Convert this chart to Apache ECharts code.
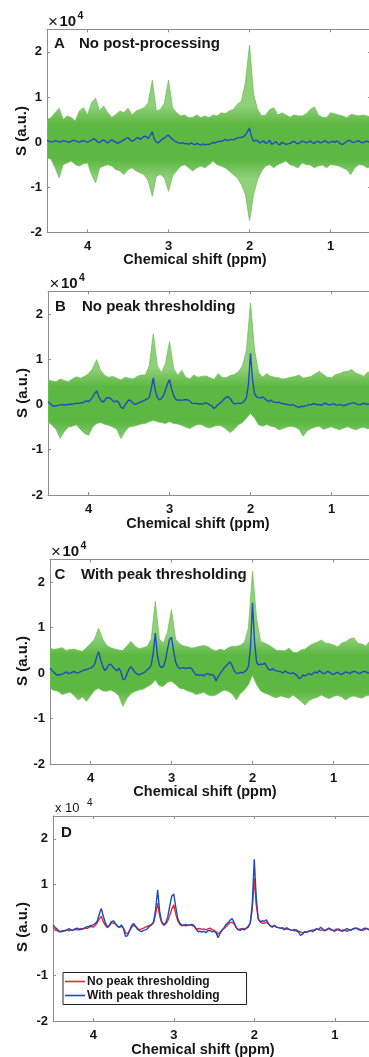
<!DOCTYPE html>
<html><head><meta charset="utf-8">
<script src="https://cdn.jsdelivr.net/npm/echarts@6/dist/echarts.min.js"></script>
<style>html,body{margin:0;padding:0;background:#fff;}#c{width:369px;height:1057px;}</style>
</head><body><div id="c"></div><script>
// ---- sample positions (ppm) ----
const ppmFine = [4.5,4.475,4.45,4.425,4.4,4.375,4.35,4.325,4.3,4.275,4.25,4.225,4.2,4.175,4.15,4.125,4.1,4.075,4.05,4.025,
4,3.975,3.95,3.925,3.9,3.875,3.85,3.825,3.8,3.775,3.75,3.725,3.7,3.675,3.65,3.625,3.6,3.575,3.55,3.525,
3.5,3.475,3.45,3.425,3.4,3.375,3.35,3.325,3.3,3.275,3.25,3.225,3.2,3.175,3.15,3.125,3.1,3.075,3.05,3.025,
3,2.975,2.95,2.925,2.9,2.875,2.85,2.825,2.8,2.775,2.75,2.725,2.7,2.675,2.65,2.625,2.6,2.575,2.55,2.525,
2.5,2.475,2.45,2.425,2.4,2.375,2.35,2.325,2.3,2.275,2.25,2.225,2.2,2.175,2.15,2.125,2.1,2.075,2.05,2.025,
2,1.975,1.95,1.925,1.9,1.875,1.85,1.825,1.8,1.775,1.75,1.725,1.7,1.675,1.65,1.625,1.6,1.575,1.55,1.525,
1.5,1.475,1.45,1.425,1.4,1.375,1.35,1.325,1.3,1.275,1.25,1.225,1.2,1.175,1.15,1.125,1.1,1.075,1.05,1.025,
1,0.975,0.95,0.925,0.9,0.875,0.85,0.825,0.8,0.775,0.75,0.725,0.7,0.675,0.65,0.625,0.6,0.575,0.55,0.525,
0.5];
const ppmCoarse = [4.5,4.45,4.4,4.35,4.3,4.25,4.2,4.15,4.1,4.05,
4,3.95,3.9,3.85,3.8,3.75,3.7,3.65,3.6,3.55,
3.5,3.45,3.4,3.35,3.3,3.25,3.2,3.15,3.1,3.05,
3,2.95,2.9,2.85,2.8,2.75,2.7,2.65,2.6,2.55,
2.5,2.45,2.4,2.35,2.3,2.25,2.2,2.15,2.1,2.05,
2,1.95,1.9,1.85,1.8,1.75,1.7,1.65,1.6,1.55,
1.5,1.45,1.4,1.35,1.3,1.25,1.2,1.15,1.1,1.05,
1,0.95,0.9,0.85,0.8,0.75,0.7,0.65,0.6,0.55,
0.5];

// ---- values in units of 1e3 (a.u.) ----
// mean spectra (blue lines)
const meanNoPost = [0.4,0.2,0.0,0.1,0.3,0.2,0.0,0.1,0.3,0.2,0.1,-0.1,0.2,0.4,0.3,0.1,0.0,0.2,0.3,0.1,
0.0,0.2,0.4,0.8,0.5,0.0,-0.1,0.3,0.5,0.1,-0.2,0.2,0.5,0.2,0.0,-0.3,0.0,0.2,0.5,0.8,
1.0,0.5,0.2,0.4,0.8,1.0,0.6,0.9,1.3,1.2,0.8,1.5,2.3,0.6,0.0,-0.2,0.3,0.7,0.9,1.3,
1.5,1.0,0.6,0.3,0.0,-0.2,-0.3,-0.1,-0.4,-0.3,-0.5,-0.2,-0.4,-0.6,-0.3,-0.5,-0.7,-0.4,-0.6,-0.5,
-0.5,-0.3,-0.1,-0.2,0.0,0.2,0.1,0.3,0.6,0.3,0.5,0.6,0.5,0.7,0.9,1.0,1.0,1.2,1.6,2.3,
3.1,1.2,0.2,0.4,0.3,-0.2,0.0,0.3,-0.3,-0.1,0.4,-0.5,-0.2,0.1,-0.4,-0.6,0.0,-0.3,-0.5,-0.4,
-0.3,0.0,0.2,-0.2,-0.4,-0.1,0.2,0.1,-0.2,0.0,0.3,-0.1,-0.3,0.1,0.2,-0.2,0.0,0.3,0.1,-0.2,
0.0,0.2,-0.1,0.3,0.0,-0.4,-0.5,-0.2,0.1,0.4,0.2,-0.1,0.0,0.2,0.3,0.0,-0.2,0.1,0.2,0.0,
0.1];
const meanNoThresh = [0.6,0.2,-0.2,-0.4,-0.3,-0.2,-0.1,0.0,-0.2,0.0,-0.1,0.1,0.0,0.2,0.3,0.2,0.4,0.3,0.6,0.8,
0.6,1.0,1.6,2.4,3.0,1.8,1.0,0.5,0.9,1.5,1.5,1.3,0.8,0.6,0.8,0.4,-0.6,-0.9,-0.2,0.5,
1.0,0.8,0.3,0.0,0.2,0.4,0.6,0.8,1.0,1.2,1.6,3.5,5.9,3.0,1.6,1.0,1.3,2.0,3.2,4.5,
5.5,3.5,2.0,1.2,0.9,1.0,0.9,1.0,1.1,1.0,0.8,0.3,0.2,0.3,0.1,0.2,0.0,0.2,0.4,0.1,
-0.1,-0.4,-0.9,-0.5,0.0,0.3,0.7,1.2,1.6,1.7,1.3,0.6,0.1,0.2,0.3,0.2,0.4,0.8,1.5,4.5,
11.3,5.5,2.4,1.7,1.5,1.4,1.7,1.3,0.9,0.6,1.0,0.6,0.5,0.4,0.5,0.3,0.2,0.1,0.0,-0.1,
-0.2,0.0,-0.3,-0.5,-0.7,-0.4,-0.5,-0.3,-0.2,0.0,-0.1,0.2,0.1,-0.1,0.0,-0.2,0.1,0.3,0.0,-0.1,
0.0,0.2,-0.1,-0.2,0.0,-0.1,-0.3,-0.1,0.0,0.2,0.3,0.4,0.2,0.0,-0.1,0.1,0.3,0.1,0.0,0.2,
0.1];
const meanWithThresh = [1.1,0.6,0.2,-0.3,-0.4,-0.3,-0.2,0.0,0.3,-0.1,0.0,0.2,0.4,0.0,0.1,0.3,0.5,0.7,0.8,1.0,
1.1,1.4,1.9,3.5,4.7,3.0,1.6,0.6,1.0,1.8,2.0,1.4,0.9,0.5,1.1,0.3,-1.4,-1.3,-0.2,0.9,
1.4,0.8,0.2,-0.2,-0.4,-0.1,0.0,0.3,0.8,1.1,1.8,4.5,8.8,4.0,1.8,1.2,1.5,2.8,5.2,7.4,
7.9,5.0,2.5,1.5,1.0,1.1,1.2,1.0,1.1,1.2,1.0,0.3,-0.4,-0.3,-0.5,-0.3,-0.6,-0.2,-0.1,-0.4,
-0.3,-0.6,-1.7,-0.8,-0.1,0.5,1.2,1.6,2.1,2.5,1.6,0.5,0.0,-0.1,0.2,0.0,0.3,0.6,1.5,5.5,
15.5,7.0,2.4,1.8,2.0,1.9,2.2,1.5,0.8,0.7,1.0,0.6,0.5,0.4,0.3,0.0,0.5,0.2,0.0,-0.1,
0.1,-0.2,-0.5,-1.2,-1.0,-0.4,-0.6,-0.3,-0.1,-0.4,0.0,0.3,0.0,0.6,0.2,-0.1,0.0,0.4,0.2,-0.1,
-0.3,0.0,0.2,-0.1,-0.3,0.0,0.3,0.1,-0.1,0.2,0.4,0.3,0.0,-0.1,0.2,0.4,0.3,0.0,0.2,0.4,
0.1];
// envelopes of the individual spectra (green)
const upperNoPost = [5.0,5.4,6.5,7.5,5.0,5.8,5.4,4.7,6.9,7.6,
6.0,8.7,9.7,6.9,8.0,6.5,5.5,6.1,6.9,6.5,
7.5,6.0,6.9,7.2,7.6,8.7,13.7,6.9,7.2,8.7,
13.7,7.6,6.5,5.8,6.0,5.4,5.5,6.0,5.4,5.8,
5.4,6.0,5.8,6.5,6.3,6.9,7.2,8.4,9.1,13.2,
21.5,10.6,7.2,5.8,6.0,7.2,7.6,6.0,6.5,6.0,
5.5,6.0,5.8,5.8,6.3,7.2,7.8,6.0,5.5,5.4,
6.5,6.3,6.0,5.8,5.4,6.1,6.0,5.8,6.0,5.8,
5.5];
const lowerNoPost = [-3.5,-3.8,-5.7,-7.9,-5.0,-4.6,-4.2,-5.0,-5.3,-4.8,
-4.6,-7.2,-9.0,-5.7,-5.3,-5.0,-5.3,-6.1,-6.4,-7.2,
-6.1,-5.7,-6.4,-6.8,-7.2,-8.6,-12.0,-7.5,-7.2,-7.9,
-10.9,-7.5,-6.4,-5.3,-5.0,-5.7,-6.4,-5.7,-5.3,-5.7,
-5.0,-4.2,-5.0,-5.3,-5.7,-6.4,-7.2,-7.9,-9.4,-11.6,
-17.4,-11.6,-8.3,-6.4,-5.3,-5.0,-5.7,-5.0,-4.6,-4.2,
-5.0,-5.3,-5.7,-4.6,-5.0,-5.1,-5.7,-5.3,-5.1,-5.7,
-5.0,-5.1,-5.3,-5.7,-6.1,-7.2,-5.7,-5.0,-5.1,-5.7,
-5.5];
const upperNoThresh = [5.4,5.2,5.0,5.6,5.3,5.0,5.6,6.1,5.8,6.2,
6.8,7.9,9.9,7.5,6.4,6.0,6.2,5.8,5.4,6.0,
5.8,5.6,6.2,6.5,6.5,8.5,15.6,8.5,7.0,9.0,
13.9,8.0,6.4,7.5,6.0,5.6,6.5,6.0,6.2,6.3,
5.9,5.5,6.8,6.0,5.9,6.4,6.6,7.2,8.5,12.0,
22.4,12.0,7.0,6.0,6.8,6.2,6.0,5.9,5.6,5.8,
6.0,6.2,6.5,5.8,6.0,6.2,6.8,7.3,6.6,6.0,
5.9,6.6,6.8,7.2,7.3,7.7,6.9,6.6,6.2,7.2,
6.5];
const lowerNoThresh = [-3.8,-4.6,-5.5,-7.5,-6.0,-5.0,-4.8,-4.5,-5.5,-6.4,
-6.8,-5.0,-4.2,-4.0,-4.4,-4.6,-5.0,-5.5,-7.5,-6.0,
-5.0,-4.8,-4.6,-4.3,-4.2,-3.8,-3.5,-3.8,-4.0,-4.2,
-3.8,-4.2,-4.3,-4.6,-5.0,-5.3,-4.8,-4.4,-4.5,-5.0,
-5.2,-4.8,-4.6,-4.8,-5.5,-6.2,-5.5,-4.5,-4.0,-3.0,
-2.0,-3.0,-4.5,-4.8,-4.4,-4.8,-5.0,-5.6,-5.3,-5.0,
-4.8,-5.0,-5.5,-7.0,-5.8,-5.3,-5.0,-4.8,-5.5,-5.2,
-4.9,-5.3,-5.6,-5.2,-4.9,-5.3,-5.6,-5.2,-5.0,-5.4,
-5.0];
const upperWithThresh = [5.5,5.2,5.4,5.6,5.0,5.2,5.3,5.0,4.8,5.6,
6.5,7.5,9.9,7.5,6.1,5.6,5.3,5.1,5.0,6.0,
7.0,5.9,5.4,5.6,5.9,7.5,15.8,7.5,6.6,9.0,
14.0,7.5,6.4,6.0,5.8,5.5,5.7,5.9,6.1,5.8,
5.2,4.9,5.3,5.0,5.6,5.9,5.9,6.1,6.8,10.0,
22.4,12.0,7.0,6.6,6.2,5.6,5.0,5.0,4.9,5.5,
4.6,4.5,5.1,5.3,6.0,6.5,6.8,7.3,6.6,6.5,
6.2,5.8,6.6,6.9,7.5,7.8,6.6,6.4,6.0,7.1,
6.5];
const lowerWithThresh = [-3.3,-3.8,-4.0,-4.7,-4.4,-4.2,-5.0,-5.9,-5.2,-6.2,
-5.0,-3.8,-3.3,-3.9,-4.0,-3.7,-4.2,-5.0,-7.3,-5.5,
-4.5,-4.0,-3.7,-3.5,-3.0,-2.5,-1.5,-2.8,-2.9,-2.0,
-1.8,-2.5,-3.3,-3.5,-3.9,-4.2,-4.7,-4.5,-4.2,-4.8,
-5.0,-4.8,-4.2,-3.7,-4.0,-4.6,-5.9,-4.5,-3.7,-2.5,
-0.5,-2.5,-3.9,-4.4,-4.7,-5.2,-5.4,-5.0,-5.3,-5.5,
-4.8,-5.5,-6.2,-7.0,-6.0,-5.6,-5.3,-4.8,-5.3,-5.6,
-5.1,-4.9,-5.2,-5.9,-5.3,-5.0,-5.3,-5.5,-5.0,-4.8,
-5.0];

// ---- ticks and texts ----
const xTicks = [4, 3, 2, 1];
const yTicks = [-2, -1, 0, 1, 2];           // in units of 1e4
const panelLetters = ['A', 'B', 'C', 'D'];
const panelTitles = ['No post-processing', 'No peak thresholding', 'With peak thresholding', ''];
const legendNames = ['No peak thresholding', 'With peak thresholding'];
const xLabel = 'Chemical shift (ppm)';
const yLabel = 'S (a.u.)';

// ---- layout (pixels) ----
const layout = [
  {left: 47, top: 29.3, width: 324, height: 203,   exp: [48, 22],  letter: [54, 44],  title: [79, 44],  ylab: [22, 131], xlab: [195, 259.5]},
  {left: 48, top: 291.3, width: 324, height: 203.7, exp: [49.5, 284], letter: [55, 306.7], title: [82, 306.7], ylab: [23, 393], xlab: [198, 523.5]},
  {left: 50, top: 559.6, width: 324, height: 204.4, exp: [51, 552], letter: [54.5, 575], title: [81, 575], ylab: [23, 661], xlab: [205, 792]},
  {left: 53, top: 816, width: 322, height: 205,   exp: [55, 808], letter: [61, 833], title: [0, 0], ylab: [23, 927], xlab: [203, 1049.5]}
];

const GREEN = '#5db843', GREEN_LIGHT = '#8fd079', BLUE = '#1d4cbf', RED = '#e9292b', AXIS = '#8e8e8e', TXT = '#161616';
const FONT = '"Liberation Sans", Arial, Helvetica, sans-serif';
const S = 1000;
const yCustom = yTicks.map(v => v * 10000);

const grids = [], xAxes = [], yAxes = [], series = [], graphics = [];
layout.forEach((L, g) => {
  grids.push({left: L.left, top: L.top, width: L.width, height: L.height, containLabel: false, outerBoundsMode: 'none'});
  const common = {gridIndex: g, splitLine: {show: false}};
  ['bottom', 'top'].forEach((pos, k) => xAxes.push(Object.assign({}, common, {
    type: 'value', position: pos, min: 0.5, max: 4.5, inverse: true,
    axisLine: {show: true, onZero: false, lineStyle: {color: AXIS, width: 1}},
    axisTick: {show: true, inside: true, length: 3, customValues: xTicks, lineStyle: {color: AXIS}},
    axisLabel: {show: k === 0, customValues: xTicks, color: TXT, fontSize: 13, fontWeight: 'bold', fontFamily: FONT, margin: 8}
  })));
  ['left', 'right'].forEach((pos, k) => yAxes.push(Object.assign({}, common, {
    type: 'value', position: pos, min: -20000, max: 25000,
    axisLine: {show: true, onZero: false, lineStyle: {color: AXIS, width: 1}},
    axisTick: {show: true, inside: true, length: 3, customValues: yCustom, lineStyle: {color: AXIS}},
    axisLabel: {show: k === 0, customValues: yCustom, formatter: v => String(Math.round(v / 10000)),
      color: TXT, fontSize: 13, fontWeight: 'bold', fontFamily: FONT, margin: 5}
  })));
  // texts
  if (g < 3) {
    graphics.push({type: 'text', x: L.exp[0], y: L.exp[1] + 0.5, style: {text: '×', fontSize: 17, fontFamily: FONT, fill: TXT, verticalAlign: 'middle'}});
    graphics.push({type: 'text', x: L.exp[0] + 11.5, y: L.exp[1], style: {text: '10', fontSize: 15, fontWeight: 'bold', fontFamily: FONT, fill: TXT, verticalAlign: 'middle'}});
    graphics.push({type: 'text', x: L.exp[0] + 29.5, y: L.exp[1] - 6, style: {text: '4', fontSize: 10.5, fontWeight: 'bold', fontFamily: FONT, fill: TXT, verticalAlign: 'middle'}});
    graphics.push({type: 'text', x: L.title[0], y: L.title[1], style: {text: panelTitles[g], fontSize: 15, fontWeight: 'bold', fontFamily: FONT, fill: TXT, verticalAlign: 'middle'}});
  } else {
    graphics.push({type: 'text', x: L.exp[0], y: L.exp[1], style: {text: 'x 10', fontSize: 13, fontFamily: FONT, fill: TXT, verticalAlign: 'middle'}});
    graphics.push({type: 'text', x: L.exp[0] + 32, y: L.exp[1] - 5, style: {text: '4', fontSize: 10, fontFamily: FONT, fill: TXT, verticalAlign: 'middle'}});
  }
  graphics.push({type: 'text', x: L.letter[0], y: L.letter[1], style: {text: panelLetters[g], fontSize: 15, fontWeight: 'bold', fontFamily: FONT, fill: TXT, verticalAlign: 'middle'}});
  graphics.push({type: 'text', x: L.xlab[0], y: L.xlab[1], style: {text: xLabel, fontSize: 14.5, fontWeight: 'bold', fontFamily: FONT, fill: TXT, align: 'center', verticalAlign: 'middle'}});
  graphics.push({type: 'text', x: L.ylab[0], y: L.ylab[1], rotation: Math.PI / 2, style: {text: yLabel, fontSize: 15, fontWeight: 'bold', fontFamily: FONT, fill: TXT, align: 'center', verticalAlign: 'middle'}});
});

function band(g, up, lo) {
  return {
    type: 'custom', xAxisIndex: 2 * g, yAxisIndex: 2 * g, silent: true, clip: true, z: 1,
    data: [[2.5, 0]],
    renderItem: function (params, api) {
      const pts = [];
      for (let i = 0; i < ppmCoarse.length; i++) pts.push(api.coord([ppmCoarse[i], up[i] * S]));
      for (let i = ppmCoarse.length - 1; i >= 0; i--) pts.push(api.coord([ppmCoarse[i], lo[i] * S]));
      // denser core of overlapping traces, lighter fringe (style only)
      const yTop = api.coord([2.5, 8000])[1], yBot = api.coord([2.5, -8000])[1];
      const fill = new echarts.graphic.LinearGradient(0, yTop, 0, yBot, [
        {offset: 0, color: GREEN_LIGHT}, {offset: 0.25, color: GREEN},
        {offset: 0.75, color: GREEN}, {offset: 1, color: GREEN_LIGHT}
      ], true);
      return {type: 'polygon', shape: {points: pts}, style: {fill: fill, stroke: '#72c25a', lineWidth: 0.8, lineJoin: 'round'}};
    }
  };
}
function meanLine(g, arr, color, name) {
  const s = {
    type: 'line', xAxisIndex: 2 * g, yAxisIndex: 2 * g, symbol: 'none', z: 3,
    data: ppmFine.map((x, i) => [x, arr[i] * S]),
    lineStyle: {color: color, width: 1.4}, itemStyle: {color: color}
  };
  if (name) s.name = name;
  return s;
}
series.push(band(0, upperNoPost, lowerNoPost), meanLine(0, meanNoPost, BLUE));
series.push(band(1, upperNoThresh, lowerNoThresh), meanLine(1, meanNoThresh, BLUE));
series.push(band(2, upperWithThresh, lowerWithThresh), meanLine(2, meanWithThresh, BLUE));
series.push(meanLine(3, meanNoThresh, RED, legendNames[0]), meanLine(3, meanWithThresh, BLUE, legendNames[1]));

const chart = echarts.init(document.getElementById('c'), null, {renderer: 'canvas'});
chart.setOption({
  animation: false,
  backgroundColor: '#fff',
  grid: grids, xAxis: xAxes, yAxis: yAxes, series: series,
  legend: {
    data: legendNames, orient: 'vertical', left: 63, top: 972.5,
    icon: 'rect', itemWidth: 20, itemHeight: 1.6, itemGap: 0,
    padding: [2, 27, 2, 2], borderColor: '#222', borderWidth: 1, backgroundColor: '#fff',
    textStyle: {fontSize: 12, fontWeight: 'bold', fontFamily: FONT, color: TXT, lineHeight: 14, padding: [0, 0, 0, -3]},
    selectedMode: false
  },
  graphic: graphics
});
</script></body></html>
